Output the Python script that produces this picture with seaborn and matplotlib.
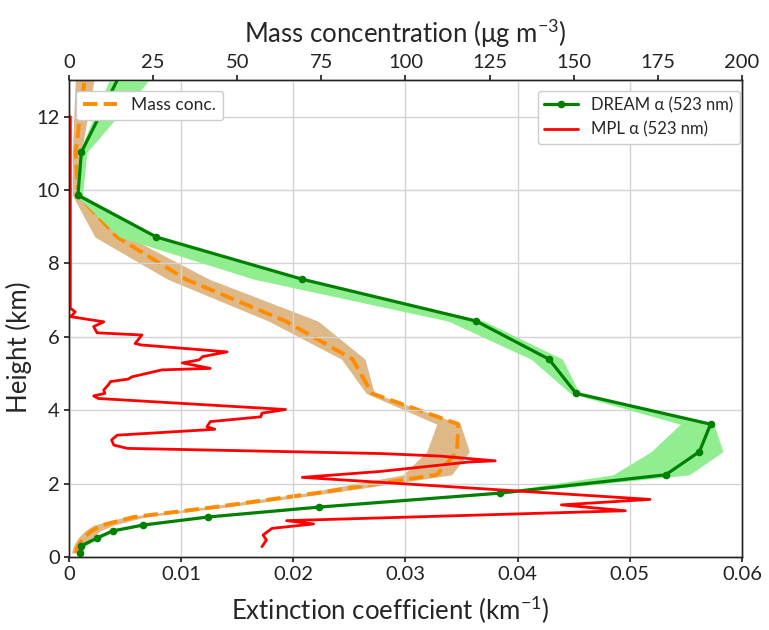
import matplotlib
matplotlib.use("Agg")
import matplotlib.pyplot as plt
import seaborn as sns

# --- DREAM model extinction (km^-1) at model levels ---
dream_height = [0.11, 0.30, 0.52, 0.71, 0.87, 1.09, 1.36, 1.74, 2.24, 2.87, 3.62,
                4.46, 5.39, 6.43, 7.57, 8.72, 9.86, 11.03, 13.3]
dream_ext = [0.0010, 0.0011, 0.0025, 0.0039, 0.0066, 0.0124, 0.0223, 0.0384, 0.0532,
             0.0562, 0.0572, 0.0452, 0.0428, 0.0363, 0.0208, 0.0078, 0.0008, 0.0011, 0.0048]
dream_lo = [0.0008, 0.0009, 0.0021, 0.0035, 0.0062, 0.0119, 0.0216, 0.0376, 0.0485,
            0.0519, 0.0545, 0.0447, 0.0412, 0.0338, 0.0165, 0.0045, 0.0006, 0.0009, 0.0040]
dream_hi = [0.0012, 0.0014, 0.0028, 0.0042, 0.0069, 0.0128, 0.0228, 0.0392, 0.0553,
            0.0583, 0.0575, 0.0455, 0.0440, 0.0370, 0.0212, 0.0080, 0.0012, 0.0016, 0.0080]

# --- DREAM mass concentration (ug m^-3) ---
mass_conc = [2.0, 2.7, 4.3, 6.7, 10.0, 19.3, 43.3, 73.3, 109.3, 115.3, 115.7,
             90.0, 84.3, 64.3, 34.7, 14.3, 2.7, 2.0, 5.0]
mass_lo = [0.7, 1.3, 2.7, 4.7, 7.3, 16.7, 40.0, 70.0, 99.3, 106.3, 109.3,
           88.3, 81.0, 59.3, 29.3, 7.7, 1.0, 1.0, 2.0]
mass_hi = [3.0, 4.0, 6.7, 9.3, 13.3, 22.7, 46.7, 77.3, 113.7, 119.0, 116.3,
           90.7, 88.0, 74.0, 41.7, 17.7, 3.7, 3.7, 8.0]

# --- MPL lidar extinction profile ---
mpl_height = [12.0, 6.78, 6.68, 6.55, 6.41, 6.28, 6.11, 6.05, 5.82, 5.78, 5.59, 5.46,
              5.37, 5.29, 5.14, 5.10, 4.91, 4.85, 4.78, 4.69, 4.55, 4.46, 4.39, 4.32,
              4.02, 3.92, 3.82, 3.69, 3.55, 3.48, 3.32, 3.19, 3.05, 2.96, 2.82, 2.75,
              2.62, 2.59, 2.33, 2.17, 1.57, 1.42, 1.26, 0.99, 0.90, 0.78, 0.60, 0.46, 0.28]
mpl_ext = [0.00012, 0.00012, 0.00056, 0.00015, 0.0031, 0.0022, 0.0025, 0.0065, 0.0059,
           0.0064, 0.0141, 0.0119, 0.0116, 0.0101, 0.0126, 0.0083, 0.0056, 0.0053,
           0.0037, 0.0035, 0.0031, 0.0032, 0.0022, 0.0026, 0.0193, 0.0172, 0.0171,
           0.0126, 0.0123, 0.0130, 0.0043, 0.0038, 0.0040, 0.0052, 0.0277, 0.0331,
           0.0380, 0.0357, 0.0277, 0.0208, 0.0518, 0.0439, 0.0496, 0.0194, 0.0218,
           0.0181, 0.0173, 0.0176, 0.0172]

EXT_TICKS = [0, 0.01, 0.02, 0.03, 0.04, 0.05, 0.06]
EXT_LABELS = ["0", "0.01", "0.02", "0.03", "0.04", "0.05", "0.06"]
MASS_TICKS = [0, 25, 50, 75, 100, 125, 150, 175, 200]
HEIGHT_TICKS = [0, 2, 4, 6, 8, 10, 12]

FONT = ["Lato", "DejaVu Sans"]


def main():
    sns.set_theme(style="whitegrid", rc={
        "axes.edgecolor": "#222222",
        "axes.linewidth": 1.0,
        "grid.color": "#d3d3d3",
        "grid.linewidth": 1.0,
        "xtick.bottom": True,
        "ytick.left": True,
        "xtick.major.size": 3.5,
        "ytick.major.size": 3.5,
        "xtick.color": "#222222",
        "ytick.color": "#222222",
    })
    plt.rcParams["font.family"] = FONT
    plt.rcParams["mathtext.fontset"] = "custom"
    plt.rcParams["mathtext.rm"] = FONT[0]
    plt.rcParams["mathtext.it"] = FONT[0] + ":italic"
    plt.rcParams["mathtext.default"] = "regular"

    fig = plt.figure(figsize=(7.69, 6.30), dpi=100)
    ax = fig.add_axes([0.0897, 0.1159, 0.8752, 0.7571])
    ax2 = ax.twiny()

    # mass concentration on the top axis (drawn underneath)
    ax2.fill_betweenx(dream_height, mass_lo, mass_hi, color="burlywood", lw=0)
    sns.lineplot(x=mass_conc, y=dream_height, sort=False, estimator=None, ax=ax2,
                 color="darkorange", lw=2.8, linestyle="--", label="Mass conc.")
    ax2.set_xlim(0, 200)
    ax2.set_xticks(MASS_TICKS)
    ax2.grid(False)
    ax2.tick_params(axis="x", labelsize=14.5, top=True, length=3.5, pad=3)
    ax2.set_xlabel("Mass concentration (\u03bcg m$^{-3}$)", fontsize=18.5, labelpad=8)
    ax2.get_legend().remove()

    # extinction on the bottom axis
    ax.set_zorder(ax2.get_zorder() + 1)
    ax.patch.set_visible(False)
    ax.fill_betweenx(dream_height, dream_lo, dream_hi, color="lightgreen", lw=0)
    sns.lineplot(x=dream_ext, y=dream_height, sort=False, estimator=None, ax=ax,
                 color="green", lw=2.3, marker="o", markersize=5.5, markeredgewidth=0,
                 label="DREAM \u03b1 (523 nm)")
    sns.lineplot(x=mpl_ext, y=mpl_height, sort=False, estimator=None, ax=ax,
                 color="red", lw=2.0, label="MPL \u03b1 (523 nm)")

    ax.set_xlim(0, 0.06)
    ax.set_ylim(0, 13)
    ax.set_xticks(EXT_TICKS)
    ax.set_xticklabels(EXT_LABELS)
    ax.set_yticks(HEIGHT_TICKS)
    ax.tick_params(axis="both", labelsize=14.5, length=3.5, pad=3)
    ax.grid(True)
    ax.set_xlabel("Extinction coefficient (km$^{-1}$)", fontsize=18.5)
    ax.set_ylabel("Height (km)", fontsize=18.5)
    ax.xaxis.set_label_coords(0.477, -0.078)
    ax.yaxis.set_label_coords(-0.055, 0.44)
    for sp in ax.spines.values():
        sp.set_color("#222222")

    # legends: both drawn from the top axes so they sit above the lines
    h2, l2 = ax2.get_legend_handles_labels()
    leg_mass = ax.legend(h2, l2, loc="upper left", bbox_to_anchor=(0.01, 0.978),
                         fontsize=12.5, borderaxespad=0, framealpha=1)
    ax.add_artist(leg_mass)
    h1, l1 = ax.get_legend_handles_labels()
    ax.legend(h1, l1, loc="upper right", bbox_to_anchor=(0.997, 0.978),
              fontsize=12, borderaxespad=0, framealpha=1)

    fig.savefig("out.png", dpi=100)
    plt.close(fig)


if __name__ == "__main__":
    main()
